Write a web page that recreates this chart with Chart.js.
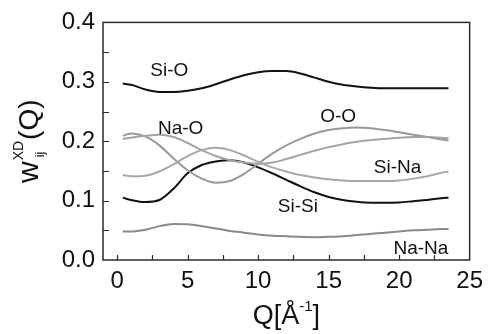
<!DOCTYPE html>
<html>
<head>
<meta charset="utf-8">
<script src="https://cdn.jsdelivr.net/npm/chart.js@4"></script>
<style>
  html, body { margin: 0; padding: 0; background: #fff; }
</style>
</head>
<body>
<canvas id="chart-wxd" width="490" height="334"></canvas>
<script>
// Q grid (1/Angstrom) shared by all curves
const qValues = [0.4, 1, 2, 3, 4, 5, 6, 7, 8, 9, 10, 11, 12, 13, 14, 15, 16, 17, 18, 19, 20, 21, 22, 23, 23.5];

// X-ray weighting factors
const siO  = [0.297, 0.295, 0.287, 0.283, 0.283, 0.285, 0.289, 0.296, 0.304, 0.311, 0.316, 0.318, 0.318, 0.314, 0.307, 0.300, 0.295, 0.292, 0.290, 0.289, 0.289, 0.289, 0.289, 0.289, 0.289];
const naO  = [0.204, 0.206, 0.209, 0.211, 0.207, 0.197, 0.185, 0.175, 0.168, 0.164, 0.162, 0.164, 0.170, 0.177, 0.184, 0.190, 0.195, 0.199, 0.202, 0.204, 0.206, 0.207, 0.207, 0.206, 0.205];
const oO   = [0.209, 0.213, 0.208, 0.193, 0.171, 0.151, 0.137, 0.130, 0.133, 0.145, 0.162, 0.179, 0.193, 0.204, 0.213, 0.219, 0.222, 0.223, 0.222, 0.219, 0.215, 0.211, 0.207, 0.203, 0.201];
const siNa = [0.143, 0.141, 0.142, 0.149, 0.161, 0.175, 0.185, 0.189, 0.185, 0.176, 0.165, 0.156, 0.149, 0.143, 0.139, 0.136, 0.134, 0.133, 0.133, 0.133, 0.134, 0.137, 0.141, 0.147, 0.149];
const siSi = [0.105, 0.101, 0.0975, 0.101, 0.120, 0.146, 0.160, 0.166, 0.168, 0.164, 0.156, 0.146, 0.135, 0.124, 0.114, 0.106, 0.101, 0.098, 0.0965, 0.0965, 0.097, 0.099, 0.101, 0.104, 0.105];
const naNa = [0.048, 0.048, 0.051, 0.057, 0.0605, 0.060, 0.057, 0.053, 0.049, 0.046, 0.043, 0.041, 0.040, 0.039, 0.0385, 0.039, 0.040, 0.042, 0.044, 0.046, 0.048, 0.050, 0.051, 0.052, 0.052];

// ticks
const xTicks = [0, 5, 10, 15, 20, 25];
const yTicks = [0, 0.1, 0.2, 0.3, 0.4];
const xMinor = [0, 2.5, 5, 7.5, 10, 12.5, 15, 17.5, 20, 22.5];
const yMinor = [0.05, 0.1, 0.15, 0.2, 0.25, 0.3, 0.35];

// curve labels (text, Q, w at baseline)
const labelNames = ['Si-O', 'Na-O', 'O-O', 'Si-Na', 'Si-Si', 'Na-Na'];
const labelQ = [2.35, 2.9, 14.4, 18.2, 11.4, 19.6];
const labelW = [0.309, 0.212, 0.233, 0.146, 0.0815, 0.0095];

const FONT = '"Liberation Sans", Arial, sans-serif';

function toPoints(series) {
    return qValues.map((q, i) => ({ x: q, y: series[i] }));
}

function curve(label, series, color) {
    return {
        label: label,
        data: toPoints(series),
        borderColor: color,
        borderWidth: 2,
        pointRadius: 0,
        fill: false,
        cubicInterpolationMode: 'monotone'
    };
}

const decorPlugin = {
    id: 'decor',
    afterDraw(chart) {
        const { ctx, chartArea: a, scales: { x, y } } = chart;
        ctx.save();

        // frame
        ctx.strokeStyle = '#2a2a2a';
        ctx.lineWidth = 1.5;
        ctx.strokeRect(a.left, a.top, a.right - a.left, a.bottom - a.top);

        // inward ticks
        ctx.lineWidth = 1.2;
        ctx.beginPath();
        yMinor.forEach(v => {
            const py = Math.round(y.getPixelForValue(v)) + 0.5;
            ctx.moveTo(a.left, py);
            ctx.lineTo(a.left + 6, py);
        });
        xMinor.forEach(v => {
            const px = Math.round(x.getPixelForValue(v)) + 0.5;
            ctx.moveTo(px, a.bottom);
            ctx.lineTo(px, a.bottom - 5);
        });
        ctx.stroke();

        // curve labels
        ctx.fillStyle = '#111';
        ctx.font = '19px ' + FONT;
        ctx.textAlign = 'left';
        ctx.textBaseline = 'alphabetic';
        labelNames.forEach((t, i) => {
            ctx.fillText(t, x.getPixelForValue(labelQ[i]), y.getPixelForValue(labelW[i]));
        });

        // y axis title: w^XD_ij(Q)
        ctx.save();
        ctx.translate(38, 183);
        ctx.rotate(-Math.PI / 2);
        let cx = 0;
        ctx.font = '30px ' + FONT;
        ctx.fillText('w', cx, 0);
        cx += ctx.measureText('w').width + 1;
        ctx.font = '14px ' + FONT;
        ctx.fillText('XD', cx, -15);
        const supW = ctx.measureText('XD').width;
        ctx.font = '13px ' + FONT;
        ctx.fillText('ij', cx + 3, 6);
        cx += supW + 1;
        ctx.font = '28px ' + FONT;
        ctx.fillText('(Q)', cx, 0);
        ctx.restore();

        // x axis title: Q[Å^-1]
        ctx.font = '27px ' + FONT;
        const w1 = ctx.measureText('Q[Å').width;
        const w3 = ctx.measureText(']').width;
        ctx.font = '15px ' + FONT;
        const w2 = ctx.measureText('-1').width;
        let sx = (a.left + a.right) / 2 - (w1 + w2 + w3) / 2;
        const by = 324;
        ctx.font = '27px ' + FONT;
        ctx.fillText('Q[Å', sx, by);
        sx += w1;
        ctx.font = '15px ' + FONT;
        ctx.fillText('-1', sx, by - 13);
        sx += w2;
        ctx.font = '27px ' + FONT;
        ctx.fillText(']', sx, by);

        ctx.restore();
    }
};

new Chart(document.getElementById('chart-wxd'), {
    type: 'line',
    data: {
        datasets: [
            curve('Na-Na', naNa, '#8a8a8a'),
            curve('Si-Na', siNa, '#a8a8a8'),
            curve('Na-O', naO, '#a3a3a3'),
            curve('O-O', oO, '#999999'),
            curve('Si-Si', siSi, '#111111'),
            curve('Si-O', siO, '#111111')
        ]
    },
    options: {
        responsive: false,
        animation: false,
        layout: { padding: { top: 18, right: 15, left: 0, bottom: 0 } },
        plugins: {
            legend: { display: false },
            tooltip: { enabled: false }
        },
        scales: {
            x: {
                type: 'linear',
                min: -1,
                max: 25,
                grid: { display: false, drawTicks: false },
                border: { display: false },
                afterBuildTicks: s => { s.ticks = xTicks.map(v => ({ value: v })); },
                afterFit: s => { s.height = 74; },
                ticks: {
                    padding: 7,
                    color: '#111',
                    font: { family: FONT, size: 24 },
                    callback: v => String(v)
                }
            },
            y: {
                min: 0,
                max: 0.4,
                grid: { display: false, drawTicks: false },
                border: { display: false },
                afterBuildTicks: s => { s.ticks = yTicks.map(v => ({ value: v })); },
                afterFit: s => { s.width = 103; },
                ticks: {
                    padding: 8,
                    color: '#111',
                    font: { family: FONT, size: 24 },
                    callback: v => v.toFixed(1)
                }
            }
        }
    },
    plugins: [decorPlugin]
});
</script>
</body>
</html>
